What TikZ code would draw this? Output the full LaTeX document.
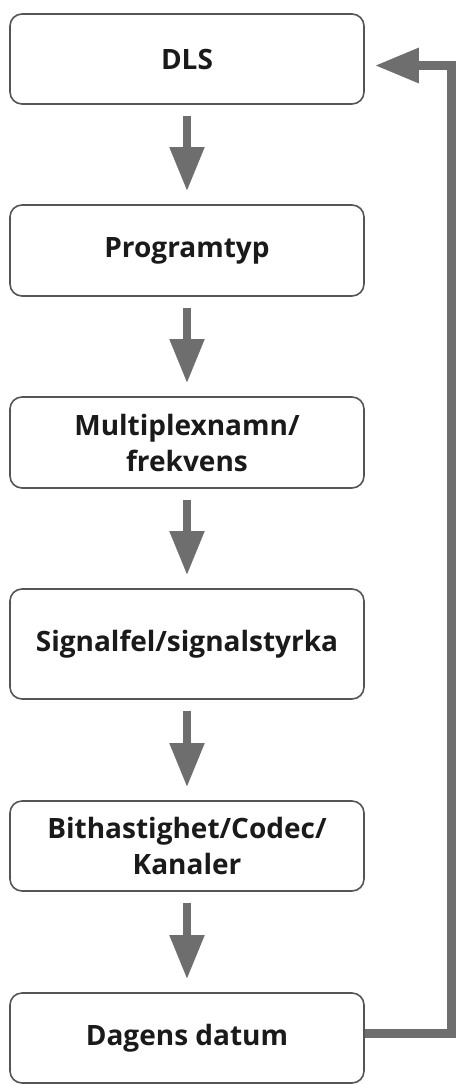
\documentclass[tikz,border=0pt]{standalone}
\usepackage{fontspec}
\setmainfont{Open Sans}
\usepackage{xcolor}
\usepackage{tikz}
\usetikzlibrary{calc,arrows.meta,positioning}
\definecolor{framec}{HTML}{555555}
\definecolor{arrc}{HTML}{6E6E6E}
\definecolor{txtc}{HTML}{1A1A1A}
\tikzset{
  box/.style={draw=framec,line width=1.6pt,rounded corners=12pt,fill=white,
    minimum width=354pt,align=center,text=txtc,
    font=\fontsize{28}{36}\selectfont\bfseries},
  ar/.style={-{Triangle[length=44pt,width=33pt]},line width=8pt,arrc,
    shorten <=11pt,shorten >=13pt},
  fb/.style={-{Triangle[length=44pt,width=33pt]},line width=9pt,arrc,
    shorten >=10pt}
}

\begin{document}
\begin{tikzpicture}[x=1pt,y=-1pt]
\useasboundingbox (0,0) rectangle (462,1085);
\node[box,minimum height=90pt] (dls) at (187,59) {DLS};
\node[box,minimum height=91pt] (prog) at (187,250.5) {Programtyp};
\node[box,minimum height=91pt] (mux) at (187,442.5) {Multiplexnamn/\\frekvens};
\node[box,minimum height=110pt] (sig) at (187,644) {Signalfel/signalstyrka};
\node[box,minimum height=90pt] (bit) at (187,846) {Bithastighet/Codec/\\Kanaler};
\node[box,minimum height=90pt] (dat) at (187,1038) {Dagens datum};
\coordinate (ret) at (451,65.5);
\draw[ar] (dls) -- (prog);
\draw[ar] (prog) -- (mux);
\draw[ar] (mux) -- (sig);
\draw[ar] (sig) -- (bit);
\draw[ar] (bit) -- (dat);
\draw[fb] ([yshift=5pt]dat.east) -| (ret) -- (ret -| dls.east);
\end{tikzpicture}
\end{document}
